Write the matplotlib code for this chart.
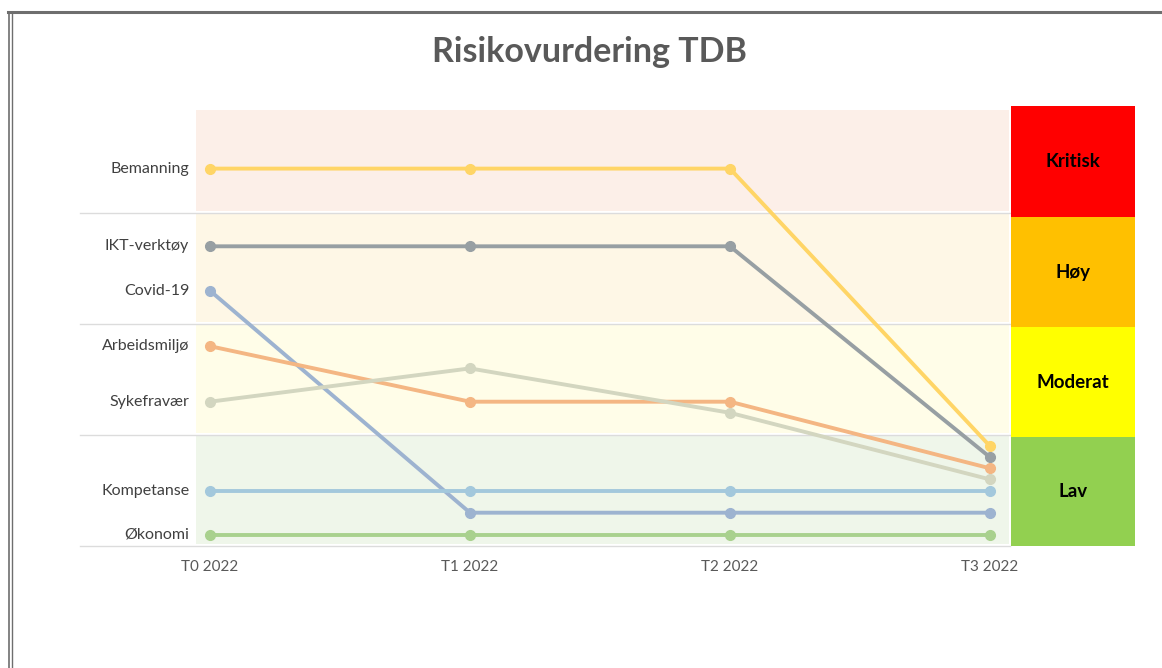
import matplotlib.pyplot as plt
from matplotlib.lines import Line2D
from matplotlib.patches import Rectangle

plt.rcParams['font.family'] = ['Lato', 'DejaVu Sans']

periods = ['T0 2022', 'T1 2022', 'T2 2022', 'T3 2022']
bemanning = [3.4, 3.4, 3.4, 0.9]
ikt = [2.7, 2.7, 2.7, 0.8]
covid = [2.3, 0.3, 0.3, 0.3]
arbeidsmiljo = [1.8, 1.3, 1.3, 0.7]
sykefravaer = [1.3, 1.6, 1.2, 0.6]
kompetanse = [0.5, 0.5, 0.5, 0.5]
okonomi = [0.1, 0.1, 0.1, 0.1]

series = [
    ('Bemanning', bemanning, '#ffd566'),
    ('IKT-verktøy', ikt, '#979fa3'),
    ('Covid-19', covid, '#9db3d0'),
    ('Arbeidsmiljø', arbeidsmiljo, '#f4b683'),
    ('Sykefravær', sykefravaer, '#d3d6c0'),
    ('Kompetanse', kompetanse, '#a3c8dc'),
    ('Økonomi', okonomi, '#a9d18e'),
]

levels = ['Lav', 'Moderat', 'Høy', 'Kritisk']
level_colors = ['#92d050', '#ffff00', '#ffc000', '#ff0000']
band_colors = ['#eff6ea', '#fffde8', '#fef7e6', '#fcefe8']

fig = plt.figure(figsize=(11.62, 6.68), dpi=100)
ax = fig.add_axes([80 / 1162, (668 - 546) / 668, 1055 / 1162, 444 / 668])
ax.set_xlim(-0.5, 3.558)
ax.set_ylim(0, 4)
ax.axis('off')

# background bands
for i, c in enumerate(band_colors):
    top = i + 1 if i < 3 else 3.93
    ax.add_patch(Rectangle((-0.055, i + 0.02), 3.13, top - i - 0.02, color=c, lw=0, zorder=0))
for y in range(4):
    ax.plot([-0.5, 3.077], [y, y], color='#dcdcdc', lw=1, zorder=1, clip_on=False)

# level blocks on the right
tops = [0.98, 1.97, 2.96, 3.96]
bottom = 0
for name, c, top in zip(levels, level_colors, tops):
    ax.add_patch(Rectangle((3.08, bottom), 0.478, top - bottom, color=c, lw=0, zorder=2))
    ax.text(3.319, (bottom + top) / 2, name, ha='center', va='center',
            fontsize=13.5, fontweight='bold', color='#000000', zorder=3)
    bottom = top

x = list(range(len(periods)))
for name, vals, c in series:
    ax.plot(x, vals, color=c, lw=2.8, marker='o', markersize=7, zorder=4)
    ax.text(-0.08, vals[0], name, ha='right', va='center', fontsize=11.5, color='#404040')

for xi, p in zip(x, periods):
    ax.text(xi, -0.19, p, ha='center', va='center', fontsize=11, color='#595959')

fig.text(589 / 1162, 1 - 52 / 668, 'Risikovurdering TDB', ha='center', va='center',
         fontsize=24.5, fontweight='bold', color='#595959')

# window frame
fig.add_artist(Line2D([8 / 1162, 1], [1 - 12 / 668, 1 - 12 / 668], color='#6e6e6e', lw=2.2,
                      transform=fig.transFigure))
fig.add_artist(Line2D([9 / 1162, 9 / 1162], [0, 1 - 12 / 668], color='#6e6e6e', lw=1.2,
                      transform=fig.transFigure))
fig.add_artist(Line2D([11.5 / 1162, 11.5 / 1162], [0, 1 - 13 / 668], color='#6e6e6e', lw=1.0,
                      transform=fig.transFigure))

fig.savefig('out.png', dpi=100)
